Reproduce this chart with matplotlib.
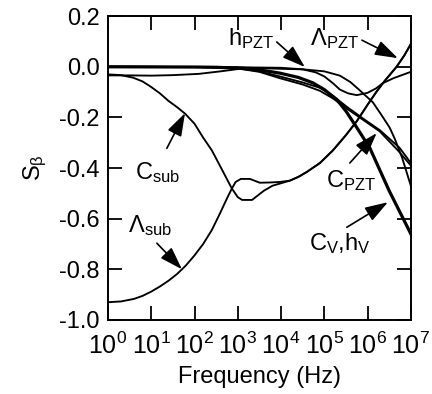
import numpy as np
import matplotlib
matplotlib.use("Agg")
import matplotlib.pyplot as plt

plt.rcParams['font.family'] = ['Liberation Sans', 'DejaVu Sans']
plt.rcParams['mathtext.fontset'] = 'custom'
plt.rcParams['mathtext.rm'] = 'Liberation Sans'
plt.rcParams['mathtext.it'] = 'Liberation Sans'
plt.rcParams['mathtext.bf'] = 'Liberation Sans:bold'

# curves: log10(frequency) and sensitivity values
lam_sub_logf = [0, 0.3, 0.6, 0.8, 1.0, 1.2, 1.4, 1.6, 1.8, 2.0, 2.2, 2.4, 2.6, 2.75, 2.86, 2.95, 3.07,
                3.28, 3.51, 3.75, 3.97, 4.2, 4.4, 4.6, 4.9, 5.2, 5.5, 5.75, 6.0, 6.2, 6.4, 6.67, 6.85, 7.0]
lam_sub_val = [-0.93, -0.927, -0.917, -0.905, -0.888, -0.868, -0.845, -0.818, -0.785, -0.745, -0.70,
               -0.645, -0.575, -0.52, -0.482, -0.455, -0.443,
               -0.443, -0.458, -0.457, -0.455, -0.45, -0.435, -0.415, -0.38, -0.33, -0.27, -0.215,
               -0.15, -0.10, -0.055, 0.0, 0.045, 0.09]

c_sub_logf = [0, 0.3, 0.58, 0.8, 1.0, 1.2, 1.4, 1.6, 1.78, 2.0, 2.2, 2.4, 2.6, 2.86, 3.0, 3.1, 3.33,
              3.45, 3.6, 3.8, 4.0, 4.2, 4.4, 4.6, 4.9, 5.2, 5.5, 5.75, 6.0, 6.2, 6.4, 6.67, 6.85, 7.0]
c_sub_val = [-0.03, -0.033, -0.043, -0.058, -0.08, -0.105, -0.135, -0.16, -0.185, -0.225, -0.28,
             -0.33, -0.395, -0.48, -0.515, -0.526, -0.526, -0.51, -0.49, -0.47, -0.46, -0.45,
             -0.435, -0.415, -0.38, -0.33, -0.27, -0.215, -0.15, -0.10, -0.055, 0.0, 0.045, 0.09]

b_logf = [0, 0.5, 1.0, 1.5, 2.1, 2.6, 3.05, 3.5, 3.97, 4.5, 4.9, 5.2, 5.52, 5.9, 6.28, 6.7, 7.0]
b_val = [-0.034, -0.034, -0.035, -0.033, -0.028, -0.018, -0.008, -0.02, -0.045, -0.07, -0.095, -0.125,
         -0.165, -0.21, -0.255, -0.33, -0.39]

h_pzt_logf = [0, 1, 2, 3, 4, 4.5, 4.8, 5.0, 5.2, 5.36, 5.55, 5.75, 6.0, 6.2, 6.35, 6.6, 7.0]
h_pzt_val = [0.0, 0.0, -0.001, -0.002, -0.004, -0.01, -0.022, -0.038, -0.065, -0.09, -0.105, -0.112,
             -0.103, -0.085, -0.065, -0.045, -0.02]

lam_pzt_logf = [0, 2, 3, 4, 4.5, 5.0, 5.36, 5.6, 5.8, 6.12, 6.3, 6.51, 6.63, 6.8, 7.0]
lam_pzt_val = [0.0, -0.001, -0.003, -0.008, -0.01, -0.018, -0.035, -0.06, -0.09, -0.14, -0.185, -0.24,
               -0.285, -0.36, -0.47]

cv_logf = [0, 2, 2.5, 3, 3.5, 3.97, 4.4, 4.73, 5.0, 5.29, 5.5, 5.75, 6.05, 6.5, 7.0]
cv_val = [0, -0.001, -0.002, -0.005, -0.012, -0.025, -0.042, -0.063, -0.09, -0.13, -0.175, -0.24, -0.32,
          -0.49, -0.66]

c_pzt_logf = [0, 2, 3, 3.5, 3.97, 4.5, 4.9, 5.2, 5.52, 5.9, 6.28, 6.74, 7.0]
c_pzt_val = [0, -0.001, -0.005, -0.018, -0.038, -0.062, -0.083, -0.115, -0.158, -0.205, -0.25, -0.32, -0.38]

fig = plt.figure(figsize=(4.32, 3.94), dpi=100)
ax = fig.add_axes([0.25, 0.188, 0.701, 0.771])

thin = [(lam_sub_logf, lam_sub_val), (c_sub_logf, c_sub_val), (b_logf, b_val),
        (h_pzt_logf, h_pzt_val), (lam_pzt_logf, lam_pzt_val), (c_pzt_logf, c_pzt_val)]
for lf, v in thin:
    ax.plot(10 ** np.array(lf), v, color='k', lw=1.35, solid_joinstyle='round')
ax.plot(10 ** np.array(cv_logf), cv_val, color='k', lw=2.3, solid_joinstyle='round')

ax.set_xscale('log')
ax.set_xlim(1, 1e7)
ax.set_ylim(-1.0, 0.2)
ax.set_xticks([10 ** k for k in range(8)])
ax.minorticks_off()
ax.set_yticks([0.2, 0.0, -0.2, -0.4, -0.6, -0.8, -1.0])
ax.set_yticklabels(['0.2', '0.0', '-0.2', '-0.4', '-0.6', '-0.8', '-1.0'])
ax.tick_params(direction='in', length=10, width=1.3, top=True, right=True, pad=6)
ax.tick_params(axis='y', labelsize=17)
ax.tick_params(axis='x', labelsize=18, pad=9)
for s in ax.spines.values():
    s.set_linewidth(1.4)

ax.set_xlabel('Frequency (Hz)', fontsize=17, labelpad=5)
ax.set_ylabel(r'S$_{\beta}$', fontsize=17, labelpad=7)

arrow = dict(arrowstyle='-|>,head_length=1.0,head_width=0.33', color='k', lw=1.2,
             mutation_scale=14, shrinkA=0, shrinkB=0)

# (label, label pos, arrow tail, arrow tip) in (log10 f, value)
notes = [
    (r'h$_{\mathrm{PZT}}$', (3.30, 0.113), (3.90, 0.098), (4.55, -0.001)),
    (r'$\Lambda_{\mathrm{PZT}}$', (5.24, 0.113), (5.87, 0.105), (6.70, 0.034)),
    (r'C$_{\mathrm{sub}}$', (1.15, -0.417), (1.36, -0.322), (1.78, -0.183)),
    (r'C$_{\mathrm{PZT}}$', (5.61, -0.448), (5.59, -0.38), (6.21, -0.262)),
    (r'$\Lambda_{\mathrm{sub}}$', (0.97, -0.626), (1.13, -0.697), (1.71, -0.80)),
    (r'C$_{\mathrm{V}}$,h$_{\mathrm{V}}$', (5.36, -0.697), (5.52, -0.634), (6.47, -0.535)),
]
for txt, pos, tail, tip in notes:
    ax.text(10 ** pos[0], pos[1], txt, fontsize=17, ha='center', va='center')
    ax.annotate('', xy=(10 ** tip[0], tip[1]), xytext=(10 ** tail[0], tail[1]), arrowprops=arrow)

fig.savefig('out.png', dpi=100)
